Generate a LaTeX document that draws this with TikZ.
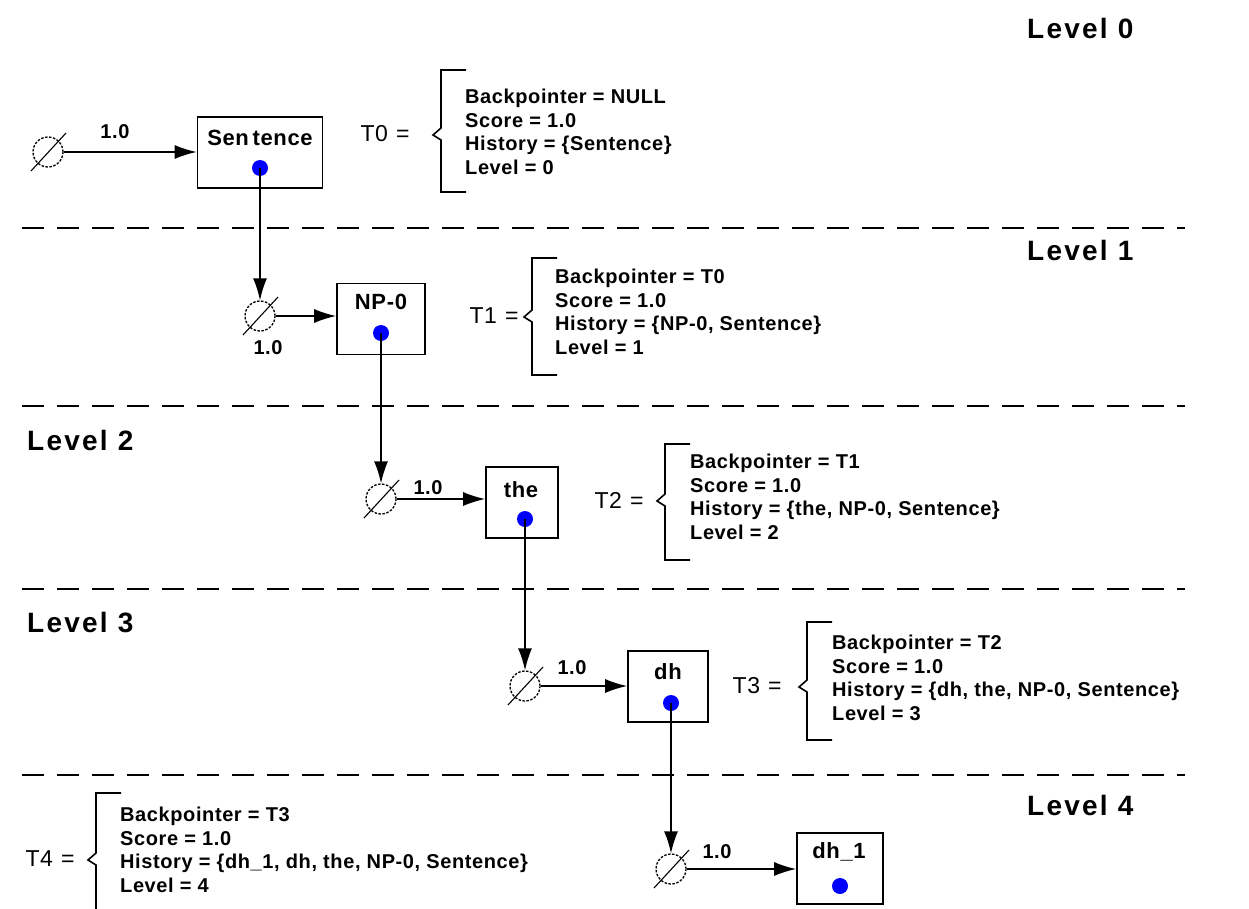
\documentclass[tikz,border=0pt]{standalone}
\usepackage{fontspec}
\setmainfont[LetterSpace=3]{Liberation Sans}
\newfontfamily\lvlfont[LetterSpace=8]{Liberation Sans}
\usetikzlibrary{arrows.meta}
\begin{document}
\begin{tikzpicture}[x=1pt,y=-1pt,
  box/.style={draw, line width=1.6pt, minimum height=71pt, inner sep=0pt},
  blbl/.style={font=\fontsize{22}{24}\selectfont\bfseries, inner sep=0pt},
  bdot/.style={circle, fill=blue, inner sep=0pt, minimum size=16pt},
  eset/.style={circle, draw, line width=1.3pt, dash pattern=on 2.5pt off 1.5pt, minimum size=30pt, inner sep=0pt},
  slash/.style={line width=1.1pt},
  arr/.style={line width=1.6pt, -{Latex[length=22pt,width=14pt]}},
  wlbl/.style={font=\fontsize{20}{22}\selectfont\bfseries, inner sep=0pt},
  tinfo/.style={anchor=west, align=left, font=\fontsize{20}{23.5}\selectfont\bfseries, inner sep=0pt},
  teq/.style={font=\fontsize{23}{25}\selectfont, inner sep=0pt},
  lvl/.style={anchor=west, font=\lvlfont\fontsize{28}{31}\selectfont\bfseries, inner sep=0pt},
  sep/.style={line width=1.8pt, dash pattern=on 22pt off 13pt},
  brc/.style={line width=1.6pt}
]
\useasboundingbox (0,0) rectangle (1249,909);
\begin{scope}
\clip (0,0) rectangle (1249,909);

% level labels
\node[lvl] (lv0) at (1027,28) {Level 0};
\node[lvl] (lv1) at (1027,250) {Level 1};
\node[lvl] (lv2) at (27,440) {Level 2};
\node[lvl] (lv3) at (27,623) {Level 3};
\node[lvl] (lv4) at (1027,805) {Level 4};

% separators
\coordinate (s1a) at (22,228); \coordinate (s1b) at (1185,228);
\coordinate (s2a) at (22,406); \coordinate (s2b) at (1185,406);
\coordinate (s3a) at (22,589); \coordinate (s3b) at (1185,589);
\coordinate (s4a) at (22,775); \coordinate (s4b) at (1185,775);
\draw[sep] (s1a) -- (s1b);
\draw[sep] (s2a) -- (s2b);
\draw[sep] (s3a) -- (s3b);
\draw[sep] (s4a) -- (s4b);

% boxes
\node[box, minimum width=125pt] (b0) at (260,152.5) {};
\node[box, minimum width=88pt]  (b1) at (381,319) {};
\node[box, minimum width=72pt]  (b2) at (522,502.5) {};
\node[box, minimum width=80pt]  (b3) at (668,686.5) {};
\node[box, minimum width=86pt]  (b4) at (840,868.5) {};

\node[blbl] (l0) at (260,138) {Sen\,tence};
\node[blbl] (l1) at (381,302) {NP-0};
\node[blbl] (l2) at (521,490) {the};
\node[blbl] (l3) at (668,672) {dh};
\node[blbl] (l4) at (839,852) {dh\_1};

\node[bdot] (d0) at (260,168) {};
\node[bdot] (d1) at (381,333) {};
\node[bdot] (d2) at (525,519) {};
\node[bdot] (d3) at (671,703) {};
\node[bdot] (d4) at (840,886) {};

% empty-set symbols
\node[eset] (e0) at (48,152) {};
\node[eset] (e1) at (260,316) {};
\node[eset] (e2) at (381,499) {};
\node[eset] (e3) at (525,686) {};
\node[eset] (e4) at (671,869) {};
\foreach \e in {e0,e1,e2,e3,e4}
  \draw[slash] ([shift={(-17,19)}]\e.center) -- ([shift={(18,-19)}]\e.center);

% horizontal arrows
\draw[arr] (e0.east) -- (e0.east -| b0.west);
\draw[arr] (e1.east) -- (e1.east -| b1.west);
\draw[arr] (e2.east) -- (e2.east -| b2.west);
\draw[arr] (e3.east) -- (e3.east -| b3.west);
\draw[arr] (e4.east) -- (e4.east -| b4.west);

% vertical arrows
\draw[arr] (d0.center) -- (e1.north);
\draw[arr] (d1.center) -- (e2.north);
\draw[arr] (d2.center) -- (e3.north);
\draw[arr] (d3.center) -- (e4.north);

% weights
\node[wlbl] (w0) at (115,132) {1.0};
\node[wlbl] (w1) at (268,348) {1.0};
\node[wlbl] (w2) at (428,488) {1.0};
\node[wlbl] (w3) at (572,668) {1.0};
\node[wlbl] (w4) at (717,852) {1.0};

% braces
\newcommand\trbrace[4]{%
  \draw[brc] (#1+25,#2) -- (#1,#2) -- (#1,#3-8) -- (#1-8,#3-1) -- (#1,#3+4) -- (#1,#4) -- (#1+25,#4);}
\trbrace{441}{70}{136}{192}
\trbrace{532}{258}{318}{375}
\trbrace{665}{444}{502}{560}
\trbrace{807}{622}{688}{740}
\trbrace{96}{793}{861}{915}

\node[teq] (q0) at (385,134) {T0\hspace{8pt}=};
\node[teq] (q1) at (494,316) {T1\hspace{8pt}=};
\node[teq] (q2) at (619,500) {T2\hspace{8pt}=};
\node[teq] (q3) at (757,686) {T3\hspace{8pt}=};
\node[teq] (q4) at (50,859) {T4\hspace{8pt}=};

\node[tinfo] (t0) at (465,132) {Backpointer = NULL\\Score = 1.0\\History = \{Sentence\}\\Level = 0};
\node[tinfo] (t1) at (555,312) {Backpointer = T0\\Score = 1.0\\History = \{NP-0, Sentence\}\\Level = 1};
\node[tinfo] (t2) at (690,497) {Backpointer = T1\\Score = 1.0\\History = \{the, NP-0, Sentence\}\\Level = 2};
\node[tinfo] (t3) at (832,678) {Backpointer = T2\\Score = 1.0\\History = \{dh, the, NP-0, Sentence\}\\Level = 3};
\node[tinfo] (t4) at (120,850) {Backpointer = T3\\Score = 1.0\\History = \{dh\_1, dh, the, NP-0, Sentence\}\\Level = 4};
\end{scope}
\end{tikzpicture}
\end{document}
